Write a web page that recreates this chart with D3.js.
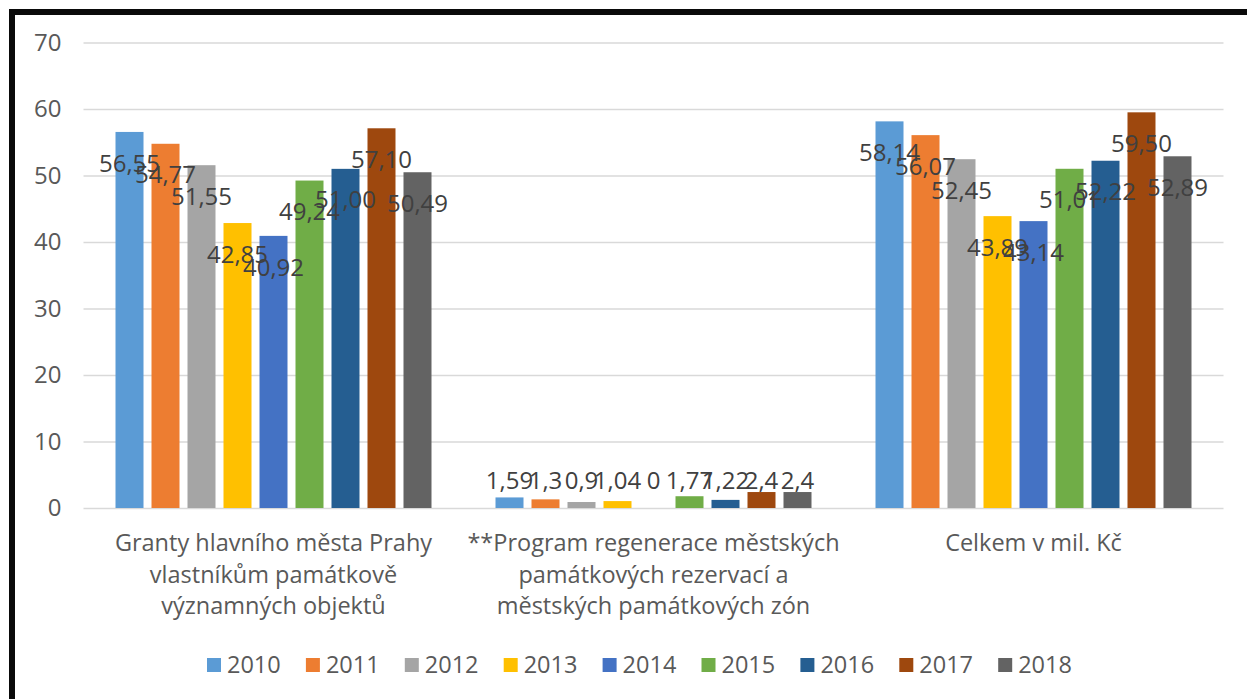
<!DOCTYPE html>
<html>
<head>
<meta charset="utf-8">
<script src="https://cdn.jsdelivr.net/npm/d3@7"></script>
<style>
  html, body { margin: 0; padding: 0; background: #fff; }
  svg { display: block; font-family: "Open Sans", sans-serif; }
</style>
</head>
<body>
<svg id="chart" width="1247" height="699"></svg>
<script>
// ---- data ----
const categories = [
  ["Granty hlavního města Prahy", "vlastníkům památkově", "významných objektů"],
  ["**Program regenerace městských", "památkových rezervací a", "městských památkových zón"],
  ["Celkem v mil. Kč"]
];
const categoryKeys = ["granty", "program", "celkem"];
const years = ["2010", "2011", "2012", "2013", "2014", "2015", "2016", "2017", "2018"];
const grantyValues  = [56.55, 54.77, 51.55, 42.85, 40.92, 49.24, 51.00, 57.10, 50.49];
const programValues = [1.59, 1.3, 0.9, 1.04, 0, 1.77, 1.22, 2.4, 2.4];
const celkemValues  = [58.14, 56.07, 52.45, 43.89, 43.14, 51.01, 52.22, 59.50, 52.89];
const labelsGranty  = ["56,55", "54,77", "51,55", "42,85", "40,92", "49,24", "51,00", "57,10", "50,49"];
const labelsProgram = ["1,59", "1,3", "0,9", "1,04", "0", "1,77", "1,22", "2,4", "2,4"];
const labelsCelkem  = ["58,14", "56,07", "52,45", "43,89", "43,14", "51,01", "52,22", "59,50", "52,89"];
const yTicks = [0, 10, 20, 30, 40, 50, 60, 70];
const colors = ["#5B9BD5", "#ED7D31", "#A5A5A5", "#FFC000", "#4472C4", "#70AD47", "#255E91", "#9E480E", "#636363"];

const seriesByCat = [grantyValues, programValues, celkemValues];
const labelsByCat = [labelsGranty, labelsProgram, labelsCelkem];

// ---- layout ----
const svg = d3.select("#chart");
const plotLeft = 83.5, plotRight = 1223.5;
const x0 = d3.scaleBand().domain(categoryKeys).range([plotLeft, plotRight]).padding(0);
const x1 = d3.scaleBand().domain(years).range([0, x0.bandwidth()])
  .paddingInner(8 / 36).paddingOuter(0.889);
const y = d3.scaleLinear().domain([0, 70]).range([508, 42.5]);
const color = d3.scaleOrdinal().domain(years).range(colors);

// gridlines
const yAxis = d3.axisLeft(y).tickValues(yTicks).tickSize(-(plotRight - plotLeft)).tickPadding(22).tickFormat(d3.format("d"));
const gAxis = svg.append("g").attr("transform", `translate(${plotLeft},0)`).call(yAxis);
gAxis.select(".domain").remove();
gAxis.selectAll(".tick line").attr("stroke", "#d9d9d9").attr("stroke-width", 1.3);
gAxis.selectAll(".tick text").attr("fill", "#595959").attr("font-size", 24)
  .attr("font-family", "'Open Sans', sans-serif");

// bars
const groups = svg.selectAll("g.cat").data(categoryKeys).join("g")
  .attr("class", "cat")
  .attr("transform", d => `translate(${x0(d)},0)`);

groups.each(function (key, ci) {
  const g = d3.select(this);
  const vals = seriesByCat[ci];
  const data = years.map((yr, i) => ({ yr, v: vals[i], label: labelsByCat[ci][i] }));
  g.selectAll("rect").data(data).join("rect")
    .attr("x", d => x1(d.yr))
    .attr("width", x1.bandwidth())
    .attr("y", d => y(d.v))
    .attr("height", d => y(0) - y(d.v))
    .attr("fill", d => color(d.yr));
});

// data labels (drawn after all bars)
groups.each(function (key, ci) {
  const g = d3.select(this);
  const vals = seriesByCat[ci];
  const data = years.map((yr, i) => ({ yr, v: vals[i], label: labelsByCat[ci][i] }));
  g.selectAll("text.lbl").data(data).join("text")
    .attr("class", "lbl")
    .attr("x", d => x1(d.yr) + x1.bandwidth() / 2)
    .attr("y", d => Math.min(y(d.v) + 31, y(0) - 28))
    .attr("dy", "0.36em")
    .attr("text-anchor", "middle")
    .attr("font-size", 24)
    .attr("fill", "#404040")
    .text(d => d.label);
});

// category labels
categoryKeys.forEach((key, ci) => {
  const t = svg.append("text")
    .attr("text-anchor", "middle")
    .attr("font-size", 23.5)
    .attr("fill", "#595959");
  categories[ci].forEach((line, li) => {
    t.append("tspan")
      .attr("x", x0(key) + x0.bandwidth() / 2)
      .attr("y", 551 + li * 31.5)
      .text(line);
  });
});

// legend
const legend = svg.append("g");
years.forEach((yr, i) => {
  const lx = 207 + i * 98.9;
  legend.append("rect").attr("x", lx).attr("y", 658).attr("width", 14).attr("height", 14).attr("fill", color(yr));
  legend.append("text").attr("x", lx + 20).attr("y", 665).attr("dy", "0.36em")
    .attr("font-size", 23.5).attr("fill", "#595959").text(yr);
});

// frame border
svg.append("path")
  .attr("d", "M12,699 L12,12 L1247,12")
  .attr("fill", "none")
  .attr("stroke", "#0a0a0a")
  .attr("stroke-width", 6);
</script>
</body>
</html>
